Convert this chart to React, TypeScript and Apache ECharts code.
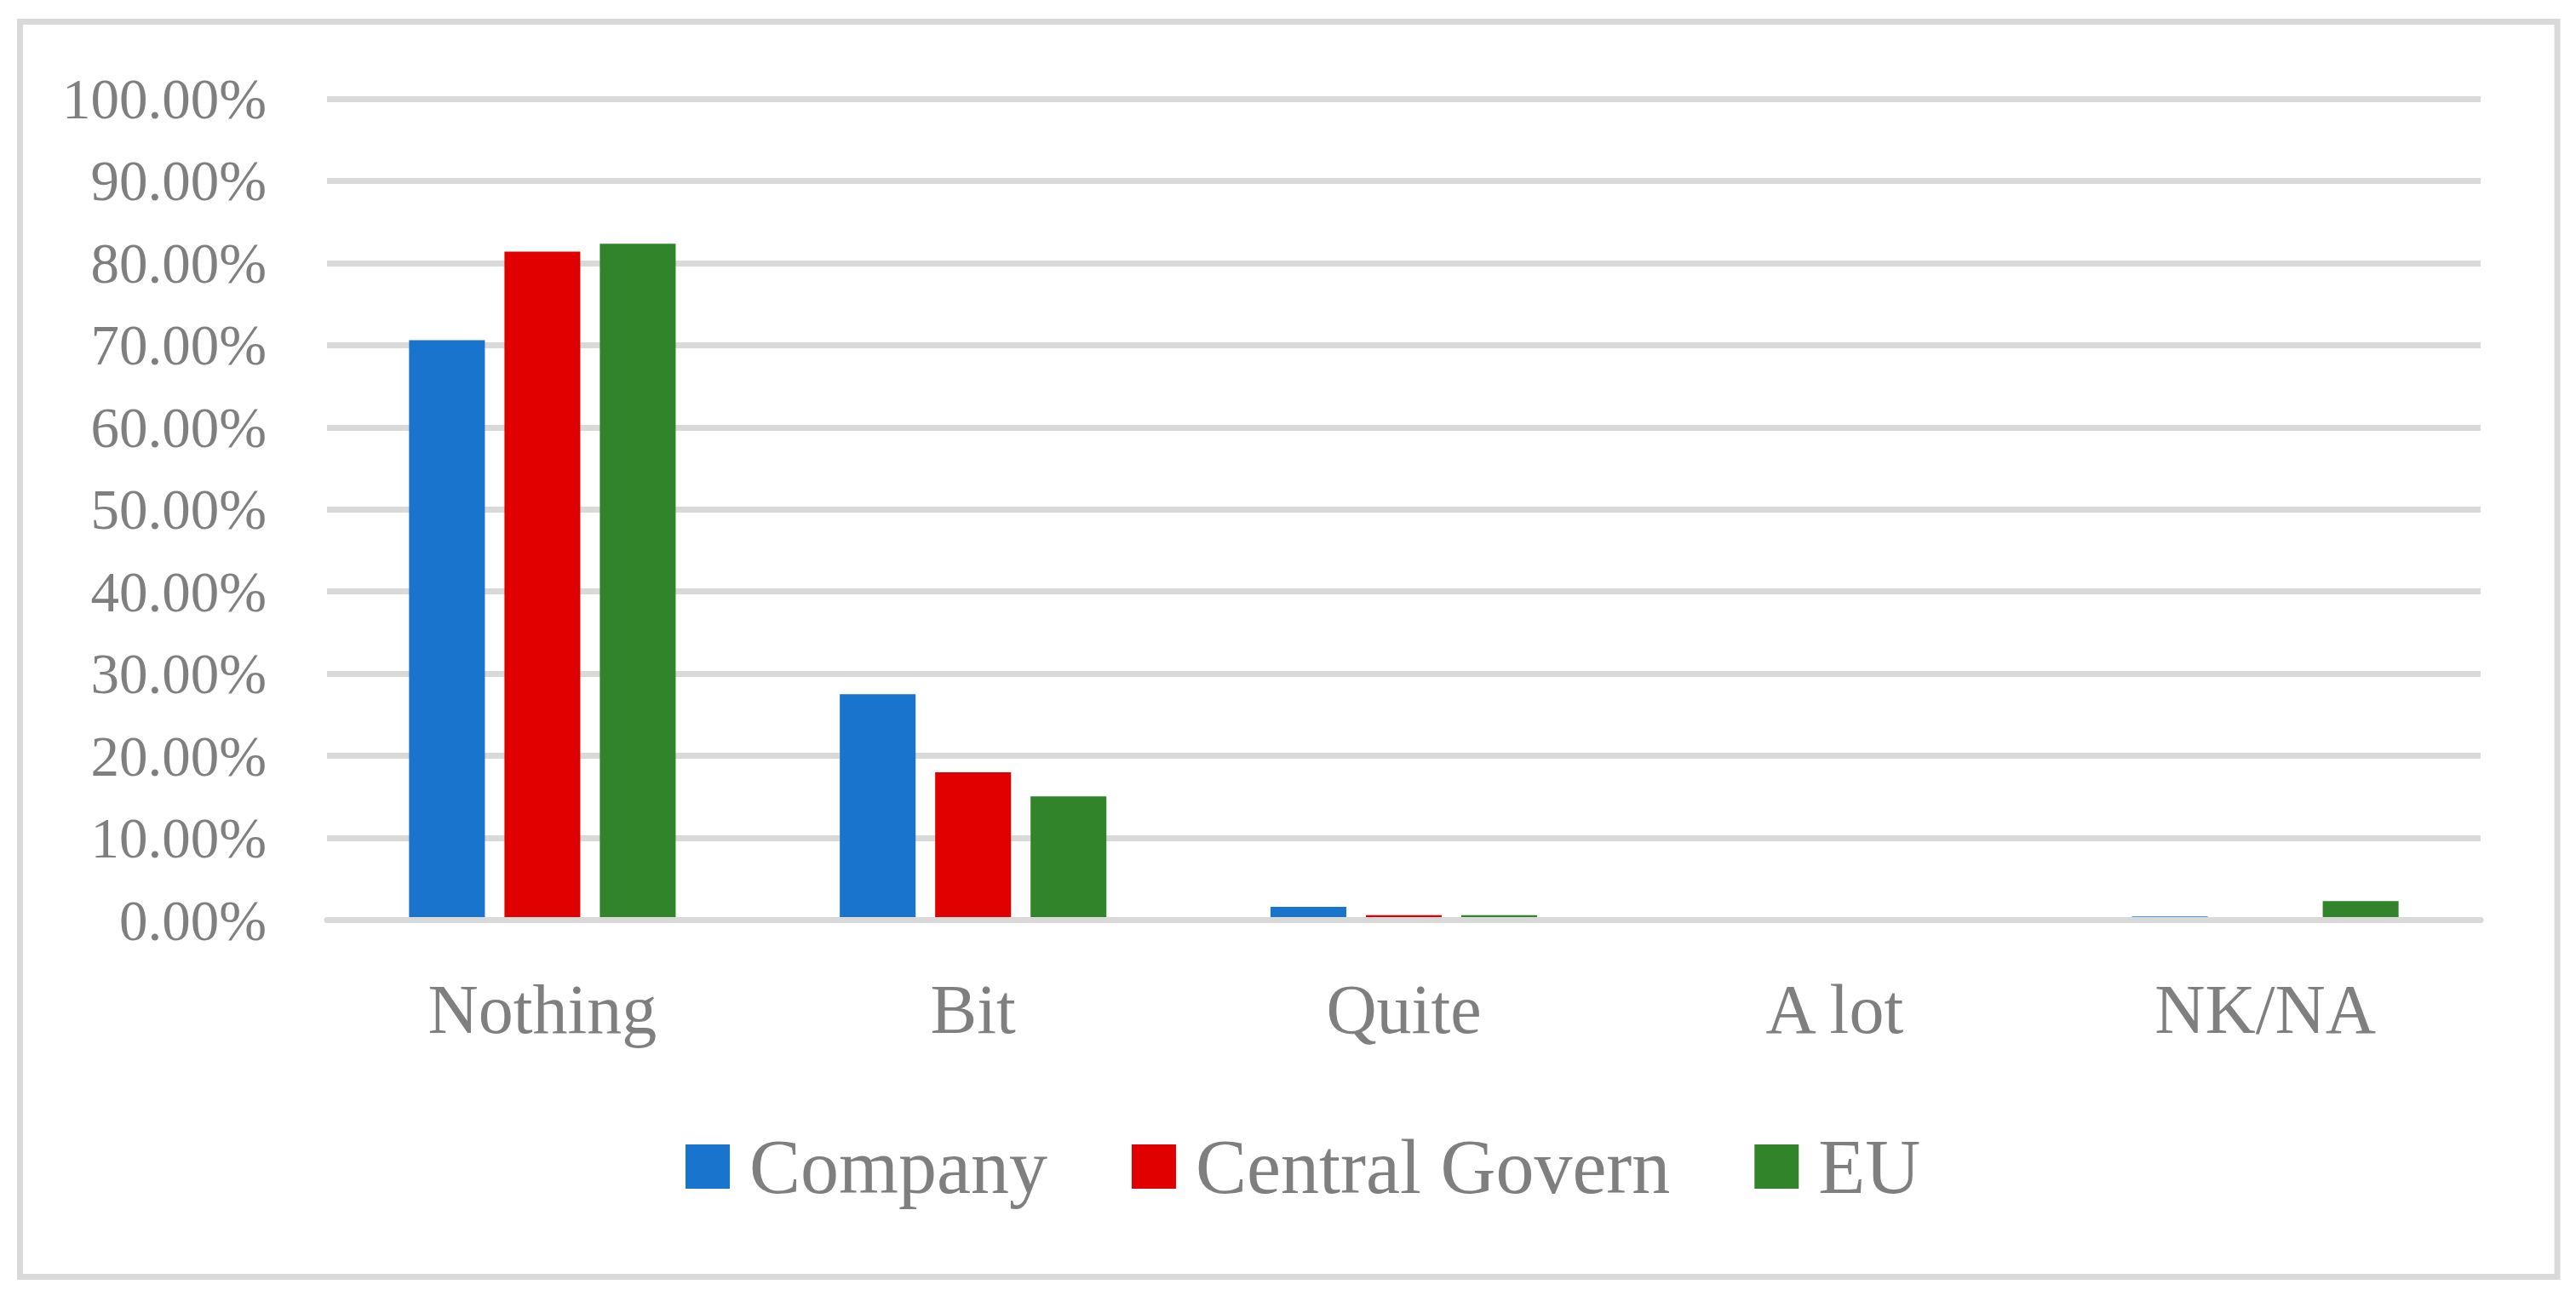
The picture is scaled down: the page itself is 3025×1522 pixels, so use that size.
import React, { useEffect, useRef } from "react";
import * as echarts from "echarts";

const categories = ["Nothing", "Bit", "Quite", "A lot", "NK/NA"];
const seriesNames = ["Company", "Central Govern", "EU"];
const companyValues = [70.6, 27.5, 1.6, 0, 0.45];
const centralValues = [81.4, 18.0, 0.6, 0, 0];
const euValues = [82.35, 15.05, 0.6, 0, 2.3];
const seriesColors = ["#1874CC", "#E00000", "#31842A"];
const yTicks = { min: 0, max: 100, interval: 10 };

const FONT = "'Liberation Serif', 'Times New Roman', serif";
const TEXT = "#7F7F7F";
const GRIDC = "#D9D9D9";

export default function App() {
  const ref = useRef<HTMLDivElement>(null);
  useEffect(() => {
    if (!ref.current) return;
    const chart = echarts.init(ref.current, undefined, { renderer: "svg" });
    const values = [companyValues, centralValues, euValues];
    chart.setOption({
      animation: false,
      backgroundColor: "#FFFFFF",
      grid: { left: 384, right: 112, top: 116, bottom: 441.5, containLabel: false },
      legend: {
        left: 800,
        top: 1320,
        itemWidth: 52,
        itemHeight: 52,
        itemGap: 99,
        icon: "rect",
        data: seriesNames,
        textStyle: { fontFamily: FONT, fontSize: 90, color: TEXT, padding: [0, 0, 0, 18] },
      },
      xAxis: {
        type: "category",
        data: categories,
        z: 3,
        axisLine: { show: true, lineStyle: { color: GRIDC, width: 7 } },
        axisTick: { show: false },
        axisLabel: { fontFamily: FONT, fontSize: 82, color: TEXT, margin: 64, lineHeight: 82 },
      },
      yAxis: {
        type: "value",
        min: yTicks.min,
        max: yTicks.max,
        interval: yTicks.interval,
        axisLine: { show: false },
        axisTick: { show: false },
        splitLine: { lineStyle: { color: GRIDC, width: 7 } },
        axisLabel: {
          fontFamily: FONT,
          fontSize: 67,
          color: TEXT,
          margin: 71,
          formatter: (v: number) => v.toFixed(2) + "%",
        },
      },
      series: seriesNames.map((name, i) => ({
        name,
        type: "bar",
        data: values[i],
        barGap: "25.8%",
        barCategoryGap: "38.1%",
        itemStyle: { color: seriesColors[i] },
      })),
      graphic: [
        {
          type: "rect",
          shape: { x: 23.5, y: 25.5, width: 2979.5, height: 1474 },
          style: { fill: "none", stroke: GRIDC, lineWidth: 7 },
          z: 10,
        },
      ],
    });
    return () => chart.dispose();
  }, []);
  return (
    <div
      ref={ref}
      style={{ position: "fixed", left: 0, top: 0, width: 3025, height: 1522 }}
    />
  );
}
